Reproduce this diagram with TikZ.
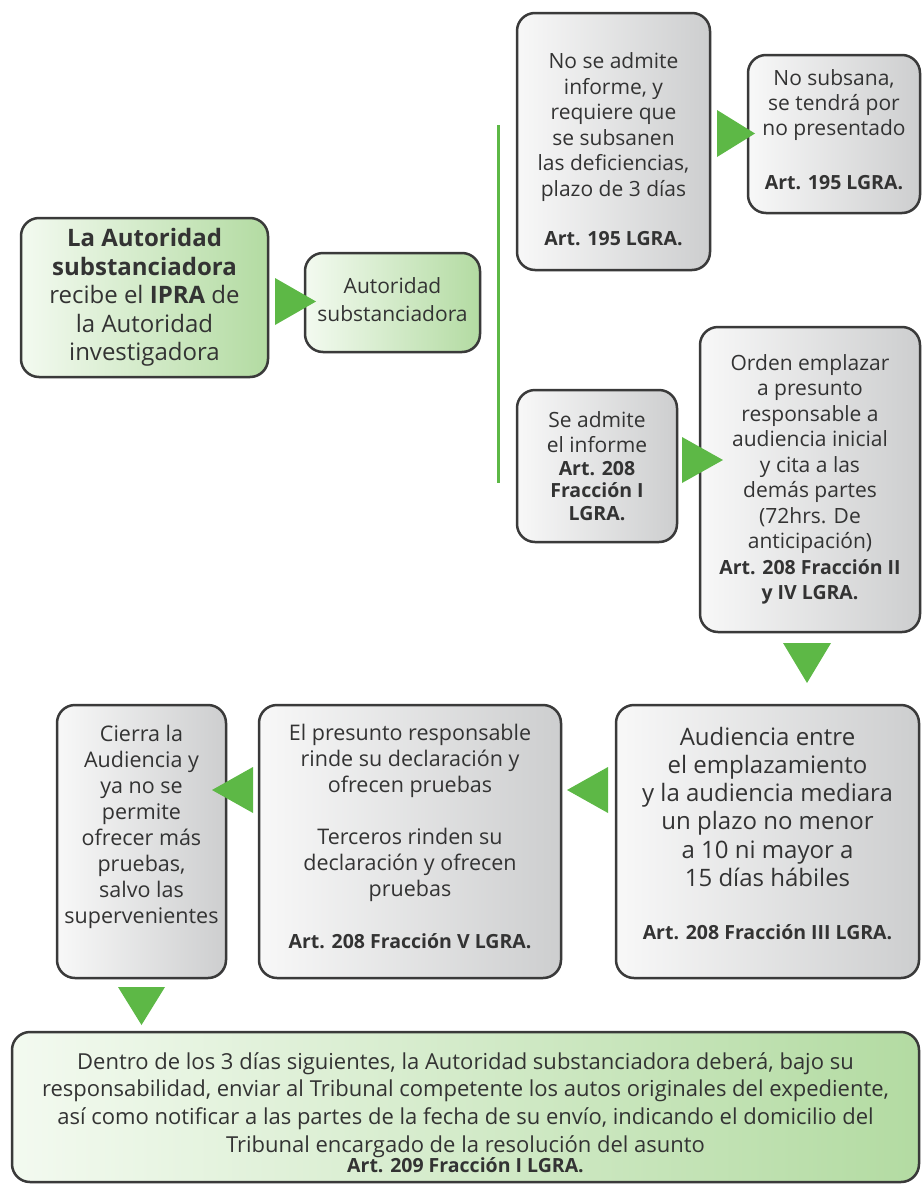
\documentclass[tikz,border=0pt]{standalone}
\usepackage{fontspec}
\setmainfont{Open Sans}
\usetikzlibrary{shadows}
\definecolor{bordercol}{HTML}{3A3A3A}
\definecolor{txtcol}{HTML}{333333}
\definecolor{grayL}{HTML}{F8F8F8}
\definecolor{grayR}{HTML}{CDCECF}
\definecolor{greenL}{HTML}{F3FAF0}
\definecolor{greenR}{HTML}{B3DBA2}
\definecolor{arrowgreen}{HTML}{5DB846}
\newcommand\myfs[2]{\fontsize{#1}{#2}\selectfont}
\tikzset{
  boxbase/.style={draw=bordercol, line width=2.5pt, rounded corners=18pt, inner sep=0pt,
     align=center, text=txtcol, drop shadow={shadow xshift=1pt, shadow yshift=-1.2pt, opacity=0.25}},
  graybox/.style={boxbase, left color=grayL, right color=grayR},
  greenbox/.style={boxbase, left color=greenL, right color=greenR},
  tri/.style={fill=arrowgreen, draw=none},
  vline/.style={draw=arrowgreen, line width=3pt}
}
\newcommand\bsm[1]{{\bfseries\myfs{19.5}{22}#1}}
\begin{document}
\begin{tikzpicture}[x=1pt,y=-1pt]
\useasboundingbox (0,0) rectangle (921,1186);
% boxes
\node[greenbox, minimum width=247pt, minimum height=159pt, font=\myfs{24}{28.5}] (A) at (144.5,297.5)
  {\textbf{La Autoridad}\\\textbf{substanciadora}\\recibe el \textbf{IPRA} de\\la Autoridad\\investigadora};
\node[greenbox, minimum width=175pt, minimum height=99pt, font=\myfs{21}{27.5}] (B) at (392.5,302.5)
  {Autoridad\\substanciadora\\[-21.5pt]~};
\node[graybox, minimum width=193pt, minimum height=257pt, font=\myfs{21}{25.5}] (C) at (613.5,141.5)
  {~\\[6pt]No se admite\\informe, y\\requiere que\\se subsanen\\las deficiencias,\\plazo de 3 días\\[24pt]\bsm{Art. 195 LGRA.}};
\node[graybox, minimum width=172pt, minimum height=158pt, font=\myfs{21}{25}] (D) at (834,134)
  {No subsana,\\se tendrá por\\no presentado\\[29pt]\bsm{Art. 195 LGRA.}\\[-17pt]~};
\node[graybox, minimum width=160pt, minimum height=152pt, font=\myfs{21}{25.5}] (E) at (597,466)
  {Se admite\\el informe\\[-3pt]\bsm{Art. 208}\\[-3pt]\bsm{Fracción I}\\[-3pt]\bsm{LGRA.}};
\node[graybox, minimum width=220pt, minimum height=305pt, font=\myfs{21}{25.5}] (F) at (810,479.5)
  {Orden emplazar\\a presunto\\responsable a\\audiencia inicial\\y cita a las\\demás partes\\(72hrs. De\\anticipación)\\\bsm{Art. 208 Fracción II}\\\bsm{y IV LGRA.}};
\node[graybox, minimum width=303pt, minimum height=273pt, font=\myfs{24}{28.3}] (G) at (767.5,841.5)
  {Audiencia entre\\el emplazamiento\\y la audiencia mediara\\un plazo no menor\\a 10 ni mayor a\\15 días hábiles\\[25pt]\bsm{Art. 208 Fracción III LGRA.}\\[-12pt]~};
\node[graybox, minimum width=302pt, minimum height=273pt, font=\myfs{21.5}{26}] (H) at (410,841.5)
  {El presunto responsable\\rinde su declaración y\\ofrecen pruebas\\[26pt]Terceros rinden su\\declaración y ofrecen\\pruebas\\[26pt]\bsm{Art. 208 Fracción V LGRA.}\\[-16pt]~};
\node[graybox, minimum width=169pt, minimum height=273pt, font=\myfs{21.5}{26}] (I) at (141.5,841.5)
  {Cierra la\\Audiencia y\\ya no se\\permite\\ofrecer más\\pruebas,\\salvo las\\supervenientes\\[8pt]~};
\node[greenbox, minimum width=907pt, minimum height=150pt, font=\myfs{22}{27.7}] (J) at (465.5,1107)
  {~\\[0pt]Dentro de los 3 días siguientes, la Autoridad substanciadora deberá, bajo su\\responsabilidad, enviar al Tribunal competente los autos originales del expediente,\\así como notificar a las partes de la fecha de su envío, indicando el domicilio del\\Tribunal encargado de la resolución del asunto\\[-7.5pt]\bsm{Art. 209 Fracción I LGRA.}};
% separator line
\coordinate (vtop) at (498,125);
\coordinate (vbot) at (498,483);
\draw[vline] (vtop) -- (vbot);
% arrows
\fill[tri] (275,278) -- (316,301.5) -- (275,325) -- cycle;
\fill[tri] (717,110) -- (755,133.5) -- (717,157) -- cycle;
\fill[tri] (682,437) -- (723,460) -- (682,483) -- cycle;
\fill[tri] (783,643) -- (807,683) -- (831,643) -- cycle;
\fill[tri] (608,767) -- (567,790) -- (608,813) -- cycle;
\fill[tri] (253,767) -- (212,790) -- (253,813) -- cycle;
\fill[tri] (118,987) -- (141.5,1025) -- (165,987) -- cycle;
\end{tikzpicture}
\end{document}
